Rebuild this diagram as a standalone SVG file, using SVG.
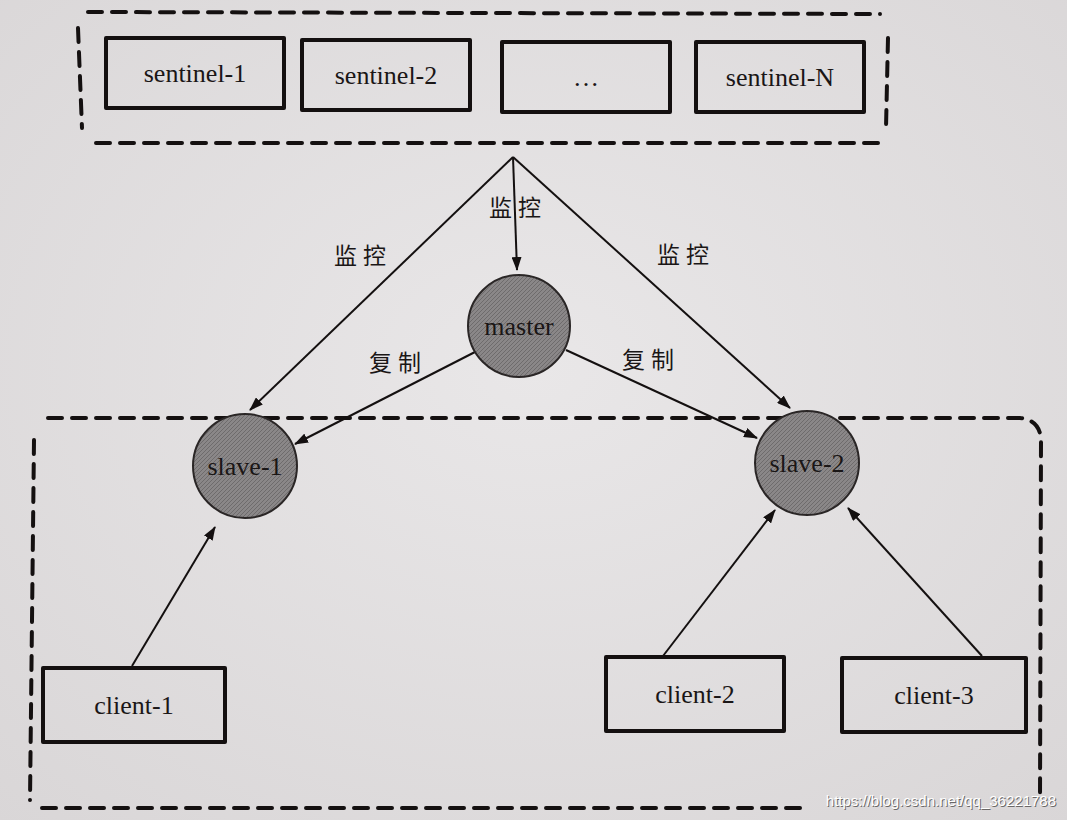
<svg xmlns="http://www.w3.org/2000/svg" width="1067" height="820" viewBox="0 0 1067 820">
<defs>
<style>
.box{fill:none;stroke:#141010;stroke-width:4;stroke-linejoin:round}
.lbl{font-family:"Liberation Serif","DejaVu Serif",serif;font-size:26px;fill:#1a1616;text-anchor:middle;dominant-baseline:central}
.cn{font-family:"Noto Sans CJK SC",sans-serif;font-size:23px;fill:#1a1616;text-anchor:middle;dominant-baseline:central;letter-spacing:6px}
.node{fill:url(#hatch);stroke:#2a2626;stroke-width:2}
.edge{stroke:#141010;stroke-width:2;fill:none;marker-end:url(#ah)}
.dash{fill:none;stroke:#141010;stroke-width:4;stroke-dasharray:14 10;stroke-linecap:round}
.wm{font-family:"Liberation Sans",Arial,sans-serif;font-size:15px;text-anchor:end}
</style>
<marker id="ah" viewBox="0 0 14 10" refX="13" refY="5" markerWidth="14" markerHeight="10" markerUnits="userSpaceOnUse" orient="auto">
<path d="M0,0 L14,5 L0,10 z" fill="#141010"/>
</marker>
<pattern id="hatch" width="4" height="4" patternUnits="userSpaceOnUse">
<rect width="4" height="4" fill="#8a8788"/>
<path d="M0,4 L4,0" stroke="#6e6b6c" stroke-width="1"/>
</pattern>
<radialGradient id="bg" cx="50%" cy="45%" r="75%">
<stop offset="0" stop-color="#e9e7e8"/>
<stop offset="1" stop-color="#d9d6d7"/>
</radialGradient>
</defs>
<rect width="1067" height="820" fill="url(#bg)"/>

<g id="sentinel-group">
<path class="dash" d="M88,12 L880,14 M78,28 L82,128 M888,38 L886,128 M96,143 L880,143"/>
</g>
<g id="bottom-group">
<path class="dash" d="M48,418 L1020,418 Q1040,420 1041,440 L1040,800 M34,440 L30,800 M42,808 L800,808"/>
</g>

<g id="sentinel-1"><rect class="box" x="106" y="38" width="178" height="70"/><text class="lbl" x="195" y="73">sentinel-1</text></g>
<g id="sentinel-2"><rect class="box" x="302" y="40" width="168" height="70"/><text class="lbl" x="386" y="75">sentinel-2</text></g>
<g id="sentinel-more"><rect class="box" x="502" y="42" width="168" height="70"/><text class="lbl" x="586" y="77">…</text></g>
<g id="sentinel-N"><rect class="box" x="696" y="42" width="168" height="70"/><text class="lbl" x="780" y="77">sentinel-N</text></g>

<g id="connectors">
<path class="edge" d="M513,157 L517,270"/>
<path class="edge" d="M513,157 L250,410"/>
<path class="edge" d="M513,157 L790,408"/>
<path class="edge" d="M475,352 L295,444"/>
<path class="edge" d="M566,350 L757,438"/>
<path class="edge" d="M132,666 L215,527"/>
<path class="edge" d="M663,656 L775,510"/>
<path class="edge" d="M982,656 L848,508"/>
</g>

<g id="labels">
<text class="cn" x="363" y="254">监控</text>
<text class="cn" x="518" y="206">监控</text>
<text class="cn" x="686" y="253">监控</text>
<text class="cn" x="398" y="361">复制</text>
<text class="cn" x="651" y="358">复制</text>
</g>

<g id="master"><circle class="node" cx="519" cy="326" r="51"/><text class="lbl" x="519" y="326">master</text></g>
<g id="slave-1"><circle class="node" cx="245" cy="466" r="52"/><text class="lbl" x="245" y="466">slave-1</text></g>
<g id="slave-2"><circle class="node" cx="807" cy="463" r="52"/><text class="lbl" x="807" y="463">slave-2</text></g>

<g id="client-1"><rect class="box" x="43" y="668" width="182" height="74"/><text class="lbl" x="134" y="705">client-1</text></g>
<g id="client-2"><rect class="box" x="606" y="657" width="178" height="74"/><text class="lbl" x="695" y="694">client-2</text></g>
<g id="client-3"><rect class="box" x="842" y="658" width="184" height="74"/><text class="lbl" x="934" y="695">client-3</text></g>

<text class="wm" x="1057" y="807" fill="#6a6868">https://blog.csdn.net/qq_36221788</text>
<text class="wm" x="1056" y="806" fill="#ffffff">https://blog.csdn.net/qq_36221788</text>
</svg>
